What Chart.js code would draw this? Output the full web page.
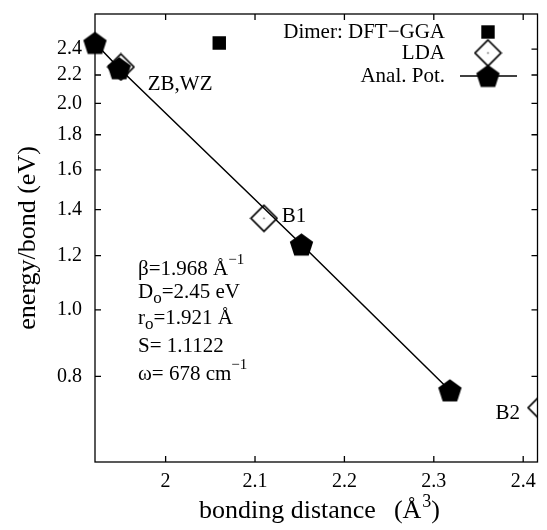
<!DOCTYPE html>
<html>
<head>
<meta charset="utf-8">
<script src="https://cdn.jsdelivr.net/npm/chart.js@4.4.0/dist/chart.umd.min.js"></script>
<style>
  html, body { margin: 0; padding: 0; background: #fff; }
</style>
</head>
<body>
<canvas id="chart" width="547" height="530"></canvas>
<script>
// values
const dimerX = [2.06];
const dimerY = [2.45];
const ldaX = [1.95, 2.11, 2.42];
const ldaY = [2.26, 1.36, 0.72];
const analX = [1.921, 1.948, 2.152, 2.318];
const analY = [2.45, 2.25, 1.245, 0.763];
const xTicks = [2, 2.1, 2.2, 2.3, 2.4];
const yTicks = [0.8, 1.0, 1.2, 1.4, 1.6, 1.8, 2.0, 2.2, 2.4];
const seriesNames = ['Dimer: DFT\u2212GGA', 'LDA', 'Anal. Pot.'];
const phaseLabels = ['ZB,WZ', 'B1', 'B2'];

const FONT = '"Liberation Serif", "Times New Roman", serif';

// label anchors in data units (left edge, vertical middle)
const phaseAnchors = [[1.98, 2.13], [2.13, 1.37], [2.369, 0.705]];

function makePentagon(r) {
  const s = Math.ceil(r * 2) + 2;
  const c = document.createElement('canvas');
  c.width = s; c.height = s;
  const g = c.getContext('2d');
  const cx = s / 2, cy = s / 2 + r * 0.095;
  g.beginPath();
  for (let i = 0; i < 5; i++) {
    const a = -Math.PI / 2 + i * 2 * Math.PI / 5;
    g.lineTo(cx + r * Math.cos(a), cy + r * Math.sin(a));
  }
  g.closePath();
  g.fillStyle = '#000';
  g.fill();
  return c;
}

function makeDiamond(r) {
  const s = Math.ceil(r * 2) + 3;
  const c = document.createElement('canvas');
  c.width = s; c.height = s;
  const g = c.getContext('2d');
  const cx = s / 2, cy = s / 2;
  g.beginPath();
  g.moveTo(cx, cy - r); g.lineTo(cx + r, cy); g.lineTo(cx, cy + r); g.lineTo(cx - r, cy);
  g.closePath();
  g.strokeStyle = '#000';
  g.lineWidth = 1.7;
  g.stroke();
  g.fillStyle = '#444';
  g.fillRect(cx - 0.7, cy - 0.7, 1.4, 1.4);
  return c;
}

const pentagon = makePentagon(12.3);
const diamond = makeDiamond(13);

function drawRuns(ctx, x, y, runs) {
  for (const [t, kind] of runs) {
    const sz = kind === 'sup' ? 15 : kind === 'sub' ? 17 : 21;
    const dy = kind === 'sup' ? -11 : kind === 'sub' ? 5 : 0;
    ctx.font = sz + 'px ' + FONT;
    ctx.fillText(t, x, y + dy);
    x += ctx.measureText(t).width;
  }
  return x;
}

function drawXTitle(ctx, x, y) {
  ctx.font = '26px ' + FONT;
  ctx.fillText('bonding distance', x, y);
  x += ctx.measureText('bonding distance').width + 18;
  ctx.fillText('(\u00c5', x, y);
  x += ctx.measureText('(\u00c5').width;
  ctx.font = '18px ' + FONT;
  ctx.fillText('3', x + 1, y - 11);
  x += ctx.measureText('3').width + 1;
  ctx.font = '26px ' + FONT;
  ctx.fillText(')', x, y);
}

const decorations = {
  id: 'decorations',
  afterDatasetsDraw(chart) {
    const ctx = chart.ctx;
    const a = chart.chartArea;
    const xs = chart.scales.x, ys = chart.scales.y;
    ctx.save();
    ctx.strokeStyle = '#000';
    ctx.lineWidth = 1.3;
    ctx.strokeRect(a.left, a.top, a.right - a.left, a.bottom - a.top);
    ctx.beginPath();
    xTicks.forEach(v => {
      const px = xs.getPixelForValue(v);
      ctx.moveTo(px, a.bottom); ctx.lineTo(px, a.bottom - 6);
      ctx.moveTo(px, a.top); ctx.lineTo(px, a.top + 6);
    });
    yTicks.forEach(v => {
      const py = ys.getPixelForValue(v);
      ctx.moveTo(a.left, py); ctx.lineTo(a.left + 6, py);
      ctx.moveTo(a.right, py); ctx.lineTo(a.right - 6, py);
    });
    ctx.stroke();

    ctx.fillStyle = '#000';
    ctx.textBaseline = 'middle';
    ctx.font = '21px ' + FONT;
    phaseLabels.forEach((t, i) => {
      const [vx, vy] = phaseAnchors[i];
      ctx.fillText(t, xs.getPixelForValue(vx), ys.getPixelForValue(vy));
    });

    // legend
    const lx = a.left + 350, sx = a.left + 393;
    const rows = [a.top + 18, a.top + 39, a.top + 62];
    ctx.textAlign = 'right';
    seriesNames.forEach((t, i) => ctx.fillText(t, lx, rows[i]));
    ctx.textAlign = 'left';
    ctx.fillRect(sx - 6.7, rows[0] - 6.7, 13.4, 13.4);
    ctx.drawImage(diamond, sx - diamond.width / 2, rows[1] - diamond.height / 2);
    ctx.lineWidth = 1.5;
    ctx.beginPath();
    ctx.moveTo(sx - 28, rows[2]); ctx.lineTo(sx + 29, rows[2]);
    ctx.stroke();
    ctx.drawImage(pentagon, sx - pentagon.width / 2, rows[2] - pentagon.height / 2);

    // parameter block
    ctx.textBaseline = 'alphabetic';
    const px = a.left + 43;
    drawRuns(ctx, px, a.top + 261, [['\u03b2=1.968 \u00c5', ''], ['\u22121', 'sup']]);
    drawRuns(ctx, px, a.top + 284, [['D', ''], ['o', 'sub'], ['=2.45 eV', '']]);
    drawRuns(ctx, px, a.top + 310, [['r', ''], ['o', 'sub'], ['=1.921 \u00c5', '']]);
    drawRuns(ctx, px, a.top + 338, [['S= 1.1122', '']]);
    drawRuns(ctx, px, a.top + 366, [['\u03c9= 678 cm', ''], ['\u22121', 'sup']]);

    // axis titles
    drawXTitle(ctx, 199, 518);
    ctx.save();
    ctx.translate(35, (a.top + a.bottom) / 2);
    ctx.rotate(-Math.PI / 2);
    ctx.textAlign = 'center';
    ctx.font = '26px ' + FONT;
    ctx.fillText('energy/bond (eV)', 0, 0);
    ctx.restore();
    ctx.restore();
  }
};

const toPoints = (xs, ys) => xs.map((x, i) => ({ x, y: ys[i] }));

new Chart(document.getElementById('chart'), {
  type: 'scatter',
  data: {
    datasets: [
      {
        label: seriesNames[2],
        data: toPoints(analX, analY),
        showLine: true,
        borderColor: '#000',
        borderWidth: 1.5,
        pointStyle: pentagon,
        clip: false
      },
      {
        label: seriesNames[1],
        data: toPoints(ldaX, ldaY),
        pointStyle: diamond,
        clip: 0
      },
      {
        label: seriesNames[0],
        data: toPoints(dimerX, dimerY),
        pointStyle: 'rect',
        pointRadius: 9.5,
        backgroundColor: '#000',
        borderColor: '#000',
        borderWidth: 0
      }
    ]
  },
  options: {
    responsive: false,
    animation: false,
    devicePixelRatio: 1,
    layout: { padding: { top: 14, right: 7, left: 0, bottom: 0 } },
    plugins: { legend: { display: false }, tooltip: { enabled: false } },
    scales: {
      x: {
        type: 'linear',
        min: 1.921,
        max: 2.416,
        afterBuildTicks: s => { s.ticks = xTicks.map(v => ({ value: v })); },
        afterFit: s => { s.height = 68; s.paddingLeft = 0; s.paddingRight = 0; },
        grid: { display: false, drawTicks: false },
        border: { display: false },
        ticks: {
          callback: v => String(v),
          font: { family: FONT, size: 20 },
          color: '#000',
          padding: 8,
          maxRotation: 0,
          autoSkip: false
        }
      },
      y: {
        type: 'logarithmic',
        min: 0.6,
        max: 2.7,
        afterBuildTicks: s => { s.ticks = yTicks.map(v => ({ value: v })); },
        afterFit: s => { s.width = 95; s.paddingTop = 0; s.paddingBottom = 0; },
        grid: { display: false, drawTicks: false },
        border: { display: false },
        ticks: {
          callback: v => v.toFixed(1),
          font: { family: FONT, size: 20 },
          color: '#000',
          padding: 13,
          autoSkip: false
        }
      }
    }
  },
  plugins: [decorations]
});
</script>
</body>
</html>
